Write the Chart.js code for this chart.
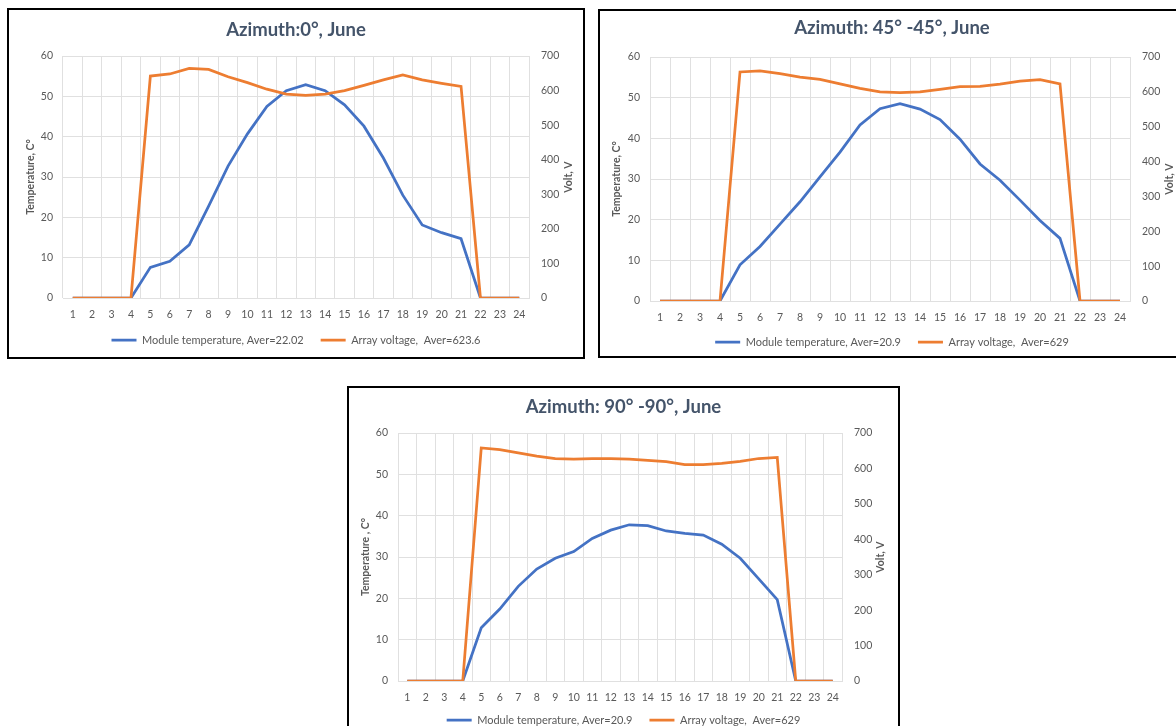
<!DOCTYPE html>
<html>
<head>
<meta charset="utf-8">
<script src="https://cdn.jsdelivr.net/npm/chart.js@4.4.1/dist/chart.umd.min.js"></script>
<style>
  html, body { margin: 0; padding: 0; background: #ffffff; width: 1176px; height: 726px; overflow: hidden; }
  .panel { position: absolute; border: 2px solid #000; background: #fff; }
  .panel canvas { display: block; }
</style>
</head>
<body>
<div class="panel" id="p1" style="left:7px; top:8px;"><canvas id="c1" width="574" height="347"></canvas></div>
<div class="panel" id="p2" style="left:598px; top:9px;"><canvas id="c2" width="584" height="345"></canvas></div>
<div class="panel" id="p3" style="left:347px; top:386px;"><canvas id="c3" width="549" height="350"></canvas></div>
<script>
// Hours of the day (x categories)
const hours = ['1','2','3','4','5','6','7','8','9','10','11','12','13','14','15','16','17','18','19','20','21','22','23','24'];

// Azimuth 0°, June
const tempAz0 = [0,0,0,0,7.6,9.1,13.2,22.8,32.7,40.7,47.5,51.4,52.9,51.4,47.9,42.6,34.7,25.5,18.1,16.2,14.7,0,0,0];
const voltAz0 = [0,0,0,0,642,648,664,661,640,623,604,590,586,590,600,615,631,645,631,621,612,0,0,0];

// Azimuth 45° -45°, June
const tempAz45 = [0,0,0,0,8.9,13.4,18.9,24.4,30.5,36.6,43.3,47.3,48.5,47.2,44.6,39.8,33.7,29.7,24.8,19.8,15.4,0,0,0];
const voltAz45 = [0,0,0,0,657,660,652,642,636,623,610,600,598,600,607,615,616,622,631,635,623,0,0,0];

// Azimuth 90° -90°, June
const tempAz90 = [0,0,0,0,12.9,17.4,22.9,27.1,29.7,31.3,34.5,36.5,37.8,37.6,36.3,35.7,35.3,33.1,29.7,24.7,19.7,0,0,0];
const voltAz90 = [0,0,0,0,658,653,644,635,628,626,628,628,626,623,619,611,611,614,620,628,631,0,0,0];

// Axis ranges and tick steps
const tempTicks = { min: 0, max: 60, step: 10 };
const voltTicks = { min: 0, max: 700, step: 100 };

// Text
const chartTitles = ['Azimuth:0°, June', 'Azimuth: 45° -45°, June', 'Azimuth: 90° -90°, June'];
const tempAxisTitles = ['Temperature, C°', 'Temperature, C°', 'Temperature , C°'];
const voltAxisTitle = 'Volt, V';
const tempLegend = ['Module temperature, Aver=22.02', 'Module temperature, Aver=20.9', 'Module temperature, Aver=20.9'];
const voltLegend = ['Array voltage,  Aver=623.6', 'Array voltage,  Aver=629', 'Array voltage,  Aver=629'];

const BLUE = '#4472C4';
const ORANGE = '#ED7D31';
const GRID = '#e0e0e0';
const TEXT = '#595959';
const TITLE = '#44546A';
const FONT = 'Lato, "Open Sans", sans-serif';
const LEGEND_PAD = 17;

// Draws the secondary axis title reading bottom-to-top
const rightTitlePlugin = {
  id: 'rightTitle',
  afterDraw(chart, args, opts) {
    const s = chart.scales.y1;
    const ctx = chart.ctx;
    ctx.save();
    ctx.translate(s.left + opts.offset, (chart.chartArea.top + chart.chartArea.bottom) / 2);
    ctx.rotate(-Math.PI / 2);
    ctx.font = 'bold 10.5px ' + FONT;
    ctx.fillStyle = TEXT;
    ctx.textAlign = 'center';
    ctx.textBaseline = 'middle';
    ctx.fillText(opts.text, 0, 0);
    ctx.restore();
  }
};

// Pulls the legend row up closer to the hour labels
const legendShiftPlugin = {
  id: 'legendShift',
  afterLayout(chart, args, opts) {
    const lg = chart.legend;
    if (lg) { lg.top -= opts.shift; }
  }
};

function makeChart(id, idx, temps, volts, lay) {
  new Chart(document.getElementById(id), {
    type: 'line',
    data: {
      labels: hours,
      datasets: [
        { label: tempLegend[idx], data: temps, borderColor: BLUE, backgroundColor: BLUE,
          borderWidth: 2.75, pointRadius: 0, tension: 0, yAxisID: 'y', order: 1,
          pointStyle: 'line' },
        { label: voltLegend[idx], data: volts, borderColor: ORANGE, backgroundColor: ORANGE,
          borderWidth: 2.75, pointRadius: 0, tension: 0, yAxisID: 'y1', order: 0,
          pointStyle: 'line' }
      ]
    },
    options: {
      responsive: false,
      animation: false,
      layout: { padding: { left: 0, right: 0, top: 0, bottom: 0 } },
      plugins: {
        title: {
          display: true, text: chartTitles[idx], color: TITLE,
          font: { family: FONT, size: 18.5, weight: 'bold' },
          padding: { top: lay.titleTop, bottom: lay.titleBottom }
        },
        legend: {
          position: 'bottom', maxHeight: lay.legendH,
          labels: {
            usePointStyle: true, pointStyleWidth: 25, padding: LEGEND_PAD,
            sort: (a, b) => a.datasetIndex - b.datasetIndex,
            color: TEXT, font: { family: FONT, size: 11 }
          }
        },
        tooltip: { enabled: false },
        rightTitle: { text: voltAxisTitle, offset: lay.rightTitleOffset },
        legendShift: { shift: lay.legendShift }
      },
      scales: {
        x: {
          offset: true,
          grid: { offset: true, color: GRID, drawTicks: false },
          border: { color: GRID },
          ticks: { autoSkip: false, maxRotation: 0, padding: 10, color: TEXT, font: { family: FONT, size: 10.5 } },
          afterFit: (s) => { s.height = 24; }
        },
        y: {
          position: 'left',
          min: tempTicks.min, max: tempTicks.max,
          grid: { color: GRID, drawTicks: false },
          border: { display: false },
          ticks: { stepSize: tempTicks.step, padding: 10, color: TEXT, font: { family: FONT, size: 10.5 } },
          title: { display: true, text: tempAxisTitles[idx], color: TEXT,
                   font: { family: FONT, size: 10.5, weight: 'bold' }, padding: { top: lay.leftTitlePad, bottom: 0 } },
          afterFit: (s) => { s.width = lay.leftW; }
        },
        y1: {
          position: 'right',
          min: voltTicks.min, max: voltTicks.max,
          grid: { display: false, drawTicks: false },
          border: { display: false },
          ticks: { stepSize: voltTicks.step, padding: 12, color: TEXT, font: { family: FONT, size: 10.5 } },
          afterFit: (s) => { s.width = lay.rightW; }
        }
      }
    },
    plugins: [rightTitlePlugin, legendShiftPlugin]
  });
}

makeChart('c1', 0, tempAz0, voltAz0,
  { titleTop: 8.9, titleBottom: 14.9, legendH: 35, legendShift: 4.5, leftW: 54, rightW: 54, leftTitlePad: 15.5, rightTitleOffset: 40 });
makeChart('c2', 1, tempAz45, voltAz45,
  { titleTop: 5.9, titleBottom: 17.9, legendH: 31, legendShift: 5.5, leftW: 50, rightW: 54, leftTitlePad: 10.5, rightTitleOffset: 40 });
makeChart('c3', 2, tempAz90, voltAz90,
  { titleTop: 7.9, titleBottom: 14.9, legendH: 33, legendShift: 7.5, leftW: 49, rightW: 56, leftTitlePad: 10.5, rightTitleOffset: 39 });
</script>
</body>
</html>
